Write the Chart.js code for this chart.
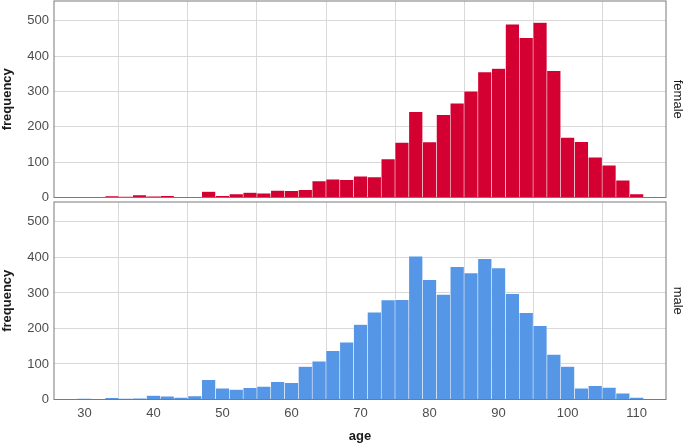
<!DOCTYPE html>
<html>
<head>
<meta charset="utf-8">
<script src="https://cdn.jsdelivr.net/npm/chart.js@4.4.1/dist/chart.umd.min.js"></script>
<style>
  html, body { margin: 0; padding: 0; background: #fff; }
  #wrap { position: relative; width: 685px; height: 444px; }
  .panel { position: absolute; left: 0; width: 685px; }
  #topPanel { top: 0; height: 207px; }
  #bottomPanel { top: 201px; height: 243px; }
</style>
</head>
<body>
<div id="wrap">
  <div class="panel" id="topPanel"><canvas id="femaleChart"></canvas></div>
  <div class="panel" id="bottomPanel"><canvas id="maleChart"></canvas></div>
</div>
<script>
// bin centres (2-year bins)
var ages = [30, 32, 34, 36, 38, 40, 42, 44, 46, 48, 50, 52, 54, 56, 58, 60, 62, 64, 66, 68,
            70, 72, 74, 76, 78, 80, 82, 84, 86, 88, 90, 92, 94, 96, 98, 100, 102, 104, 106, 108, 110];

var femaleCounts = [0, 0, 4, 2, 7, 3, 5, 0, 1, 17, 5, 10, 14, 12, 20, 19, 22, 47, 52, 50,
                    60, 58, 109, 156, 243, 157, 234, 267, 301, 355, 365, 490, 452, 495, 359, 170, 158, 114, 91, 49, 10];

var maleCounts = [2, 1, 5, 2, 3, 11, 9, 6, 10, 56, 32, 28, 33, 37, 50, 47, 93, 108, 137, 161,
                  211, 246, 280, 281, 403, 337, 296, 374, 356, 396, 370, 298, 244, 208, 127, 93, 32, 39, 34, 18, 6];

var xTicks = [30, 40, 50, 60, 70, 80, 90, 100, 110];
var yTicks = [0, 100, 200, 300, 400, 500];

var fontFamily = "'Liberation Sans', Arial, sans-serif";
var gridColor = '#d9d9d9';
var frameColor = '#7a7a7a';

// panel border (all four sides)
var framePlugin = {
    id: 'frame',
    afterDatasetsDraw: function(chart) {
        var a = chart.chartArea;
        var ctx = chart.ctx;
        ctx.save();
        ctx.strokeStyle = frameColor;
        ctx.lineWidth = 1;
        ctx.strokeRect(a.left, a.top, a.right - a.left, a.bottom - a.top);
        ctx.restore();
    }
};

function makePanel(canvasId, counts, color, stripText, showX) {
    return new Chart(document.getElementById(canvasId), {
        type: 'bar',
        data: {
            datasets: [{
                data: ages.map(function(a, i) { return { x: a, y: counts[i] }; }),
                backgroundColor: color,
                borderColor: 'rgba(255,255,255,0.55)',
                borderWidth: 0.6,
                barPercentage: 1,
                categoryPercentage: 1,
                yAxisID: 'y'
            }]
        },
        options: {
            responsive: true,
            maintainAspectRatio: false,
            animation: false,
            layout: { padding: { top: 1, left: 0, right: 0, bottom: 0 } },
            plugins: {
                legend: { display: false },
                tooltip: { enabled: false }
            },
            scales: {
                x: {
                    type: 'linear',
                    offset: false,
                    min: 25.6,
                    max: 114.25,
                    afterBuildTicks: function(s) { s.ticks = xTicks.map(function(v) { return { value: v }; }); },
                    afterFit: function(s) {
                        s.height = showX ? 44.5 : 9.5;
                        s.paddingLeft = 0;
                        s.paddingRight = 0;
                    },
                    grid: { color: gridColor, lineWidth: 1, drawTicks: false },
                    border: { display: false },
                    ticks: {
                        display: showX,
                        padding: 6,
                        color: '#4d4d4d',
                        font: { family: fontFamily, size: 13 }
                    },
                    title: {
                        display: showX,
                        text: 'age',
                        color: '#1a1a1a',
                        padding: { top: 0, bottom: 0 },
                        font: { family: fontFamily, size: 13, weight: 'bold' }
                    }
                },
                y: {
                    position: 'left',
                    min: 0,
                    max: 556,
                    afterBuildTicks: function(s) { s.ticks = yTicks.map(function(v) { return { value: v }; }); },
                    afterFit: function(s) {
                        s.width = 54;
                        s.paddingTop = 0;
                        s.paddingBottom = 0;
                    },
                    grid: { color: gridColor, lineWidth: 1, drawTicks: false },
                    border: { display: false },
                    ticks: {
                        padding: 5,
                        color: '#4d4d4d',
                        font: { family: fontFamily, size: 13 }
                    },
                    title: {
                        display: true,
                        text: 'frequency',
                        color: '#1a1a1a',
                        padding: 0,
                        font: { family: fontFamily, size: 13, weight: 'bold' }
                    }
                },
                strip: {
                    position: 'right',
                    axis: 'y',
                    afterFit: function(s) {
                        s.width = 19;
                        s.paddingTop = 0;
                        s.paddingBottom = 0;
                    },
                    grid: { display: false },
                    border: { display: false },
                    ticks: { display: false },
                    title: {
                        display: true,
                        text: stripText,
                        color: '#1a1a1a',
                        padding: 0,
                        font: { family: fontFamily, size: 13 }
                    }
                }
            }
        },
        plugins: [framePlugin]
    });
}

var femaleChart = makePanel('femaleChart', femaleCounts, '#d50032', 'female', false);
var maleChart = makePanel('maleChart', maleCounts, '#5596e6', 'male', true);
</script>
</body>
</html>
